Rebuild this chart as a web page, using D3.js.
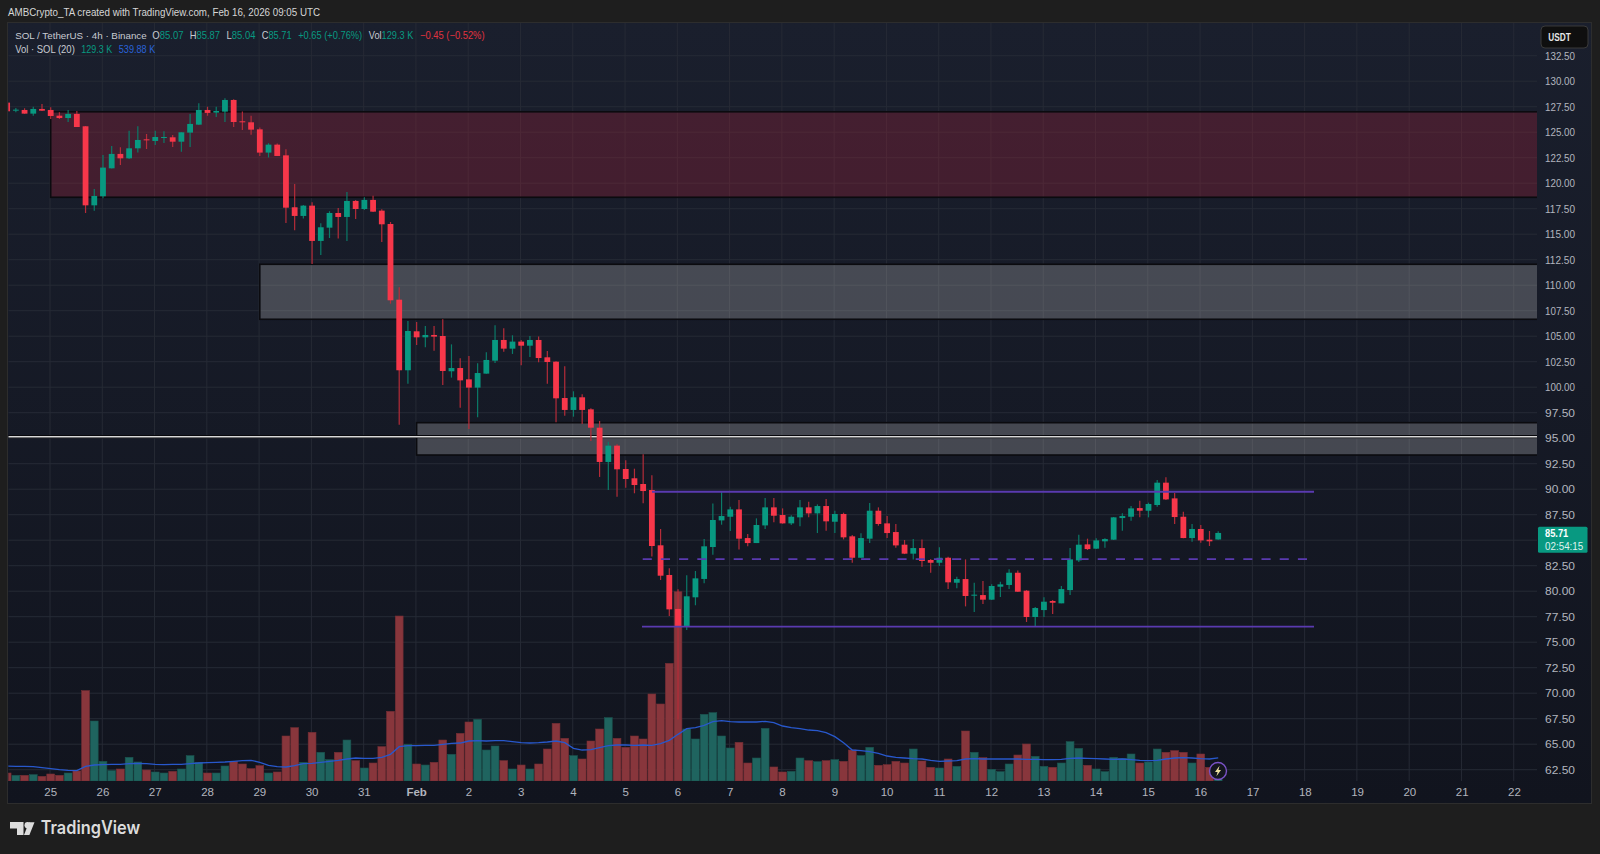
<!DOCTYPE html>
<html><head><meta charset="utf-8">
<style>html,body{margin:0;padding:0;background:#1e1e1e;overflow:hidden}text{font-family:"Liberation Sans",Arial,sans-serif}</style>
<script src="https://cdnjs.cloudflare.com/ajax/libs/d3/7.9.0/d3.min.js"></script>
</head><body><svg id="c" width="1600" height="854" xmlns="http://www.w3.org/2000/svg"></svg>
<script>
const dayLabels=['25','26','27','28','29','30','31','Feb','2','3','4','5','6','7','8','9','10','11','12','13','14','15','16','17','18','19','20','21','22'];
const priceTicks=[132.5,130,127.5,125,122.5,120,117.5,115,112.5,110,107.5,105,102.5,100,97.5,95,92.5,90,87.5,85,82.5,80,77.5,75,72.5,70,67.5,65,62.5];
const firstIndex=-5;
const open=[127.90,127.11,127.18,126.82,127.28,127.18,126.62,126.39,126.79,125.58,117.83,118.72,121.46,122.87,122.44,123.42,124.30,124.14,124.43,124.50,124.07,124.96,125.74,127.18,126.92,127.02,128.16,126.07,125.97,125.28,123.00,123.78,122.73,117.64,116.79,117.80,114.34,115.64,117.08,116.69,118.26,117.47,118.36,117.31,116.00,108.58,101.66,105.48,104.89,105.12,105.02,101.56,101.88,100.77,99.96,101.33,102.60,104.63,103.78,104.47,104.07,104.63,102.93,102.50,98.94,97.77,99.01,97.83,96.03,92.67,94.27,91.98,91.07,90.51,89.92,84.50,81.59,78.26,76.59,79.40,81.20,84.33,86.94,87.30,88.02,85.21,84.72,86.45,88.22,87.47,86.65,87.24,88.22,87.63,88.35,86.81,87.57,85.38,83.28,85.15,87.89,86.65,85.80,84.56,83.68,84.23,83.06,82.79,83.28,80.83,81.19,79.56,79.62,79.17,80.44,80.61,81.81,80.05,77.47,78.15,79.04,78.81,80.11,83.02,84.59,84.17,84.89,85.05,87.17,87.30,88.15,87.89,88.45,90.64,89.10,87.30,85.21,86.10,85.05,85.07];
const high=[127.93,127.37,127.34,127.50,127.76,127.44,126.95,127.18,127.08,125.61,119.43,122.77,123.65,123.52,125.15,125.58,124.83,125.15,125.09,124.73,124.99,126.79,127.83,127.50,127.50,128.32,128.22,127.02,126.62,125.45,123.91,123.88,123.32,119.92,117.87,118.13,116.07,117.24,117.57,119.14,118.36,118.62,118.78,117.44,116.20,109.79,106.49,106.39,106.00,106.00,106.65,104.20,102.83,103.06,102.34,103.42,106.07,105.77,105.09,104.63,105.02,104.96,103.55,102.54,102.05,99.60,99.30,97.93,96.69,94.66,94.40,92.83,92.01,93.42,91.36,86.10,82.24,80.18,81.56,81.98,85.12,88.61,89.72,88.28,88.94,85.61,87.14,89.13,89.13,88.12,87.44,88.94,88.78,88.51,89.04,87.89,87.70,85.51,85.67,88.64,88.22,87.37,86.59,85.02,85.11,85.06,83.15,84.30,83.38,81.42,83.12,80.83,81.00,80.67,80.93,82.14,82.04,80.11,78.45,79.40,79.13,80.51,84.23,85.54,85.15,85.18,85.18,87.27,87.63,88.35,88.87,88.68,90.90,91.16,89.62,87.79,86.59,86.49,85.90,85.87];
const low=[127.05,126.95,126.82,126.62,127.08,126.30,126.30,126.00,125.51,117.08,117.31,118.52,121.43,121.79,122.38,123.00,123.36,123.75,123.94,123.55,123.09,123.55,125.71,126.62,126.49,126.00,125.51,125.22,124.76,122.67,122.51,122.67,116.10,115.38,116.53,112.08,112.96,114.63,114.57,114.34,116.49,117.38,117.18,114.24,108.19,96.33,100.35,104.14,103.91,103.58,100.22,100.94,97.99,95.90,97.05,101.33,102.37,103.48,103.26,102.14,102.96,102.44,100.35,96.56,97.21,97.11,96.39,94.73,91.20,89.92,89.27,90.15,89.60,88.62,83.39,81.10,77.57,67.43,76.19,78.62,80.77,83.58,86.52,85.90,84.10,84.40,84.72,86.10,86.75,86.62,86.49,86.36,87.24,85.70,85.93,85.70,85.08,82.79,83.28,84.72,86.42,85.21,84.27,83.64,83.12,82.40,81.81,82.47,80.21,80.28,78.51,77.96,78.74,79.13,79.43,80.21,79.92,76.98,76.52,77.47,77.76,78.81,79.62,82.86,84.04,84.13,84.27,85.02,85.93,86.91,87.24,87.24,88.28,88.94,86.59,85.18,84.85,84.76,84.43,85.04];
const close=[127.05,127.21,126.82,127.28,127.11,126.59,126.39,126.79,125.51,117.83,118.75,121.53,122.87,122.44,123.42,124.24,124.21,124.53,124.53,124.07,124.99,125.81,127.18,126.89,127.08,128.16,126.00,125.97,125.25,123.00,123.78,122.67,117.60,116.79,117.80,114.34,115.68,117.08,116.69,118.26,117.47,118.36,117.21,115.97,108.52,101.66,105.51,104.89,105.12,104.96,101.59,101.88,100.67,99.96,101.39,102.67,104.63,103.78,104.47,104.07,104.63,102.86,102.47,98.91,97.77,99.01,97.77,96.03,92.67,94.27,91.95,91.00,90.41,89.82,84.43,81.52,78.22,76.52,79.50,81.26,84.40,86.98,87.37,88.02,85.15,84.72,86.49,88.22,87.40,86.65,87.30,88.22,87.63,88.35,86.85,87.57,85.28,83.28,85.21,87.89,86.59,85.70,84.49,83.68,84.23,82.96,82.79,83.28,80.87,81.19,79.53,79.66,79.17,80.51,80.67,81.81,79.95,77.47,78.35,78.97,78.87,80.21,83.12,84.56,84.13,84.98,85.11,87.24,87.37,88.12,87.89,88.55,90.64,89.00,87.27,85.21,86.10,84.98,84.89,85.71];
const volume=[187,133,133,148,109,164,133,187,234,2114,1404,460,242,281,554,445,257,211,187,226,281,593,437,187,187,351,460,398,289,359,187,211,1053,1248,437,1139,671,499,671,959,476,304,421,803,1630,3861,858,398,374,437,959,624,1115,1381,1443,725,819,476,281,374,281,398,749,1349,998,593,515,936,1217,1482,998,788,1053,983,2036,1802,2753,4430,1217,983,1560,1599,1053,772,905,421,538,1232,328,211,226,538,476,452,476,499,460,725,593,788,367,382,460,421,749,468,320,304,515,343,1170,671,546,273,218,398,608,866,577,343,320,421,920,764,367,281,218,554,530,632,421,445,749,671,710,671,421,632,320,129.3];
const volumeMA=[351,343,343,335,312,289,265,250,242,343,374,382,390,390,406,413,406,390,382,390,390,406,421,429,437,445,460,476,484,437,367,335,328,359,406,413,437,460,484,515,538,530,530,554,624,803,827,827,835,835,858,881,889,936,944,936,944,944,920,897,889,897,913,936,897,764,725,733,780,827,842,842,835,842,835,874,952,1092,1225,1248,1303,1388,1412,1388,1381,1381,1381,1396,1365,1287,1248,1225,1193,1178,1131,1037,897,725,710,686,647,585,554,538,523,515,484,460,468,476,515,523,515,515,515,515,515,507,507,499,499,507,530,538,530,523,515,507,515,499,484,476,484,515,538,546,538,523,515,540];
const zoneRed=[127.0,118.62], zoneGrayA=[112.05,106.66], zoneGrayB=[96.52,93.35], whiteLevel=95.15;
const rangeTop=89.75, rangeMid=83.15, rangeLow=76.52;

const W=1600,H=854,plotL=8.3,plotR=1537,plotT=23,plotB=781;
const svg=d3.select('#c');
const x=d3.scaleLinear().domain([0,134]).range([50.7,1218.2]);
const y=d3.scaleLinear().domain([62.5,132.5]).range([769.7,55.7]);
const v=d3.scaleLinear().domain([0,4430]).range([781,591.7]);
const defs=svg.append('defs');
const g=defs.append('linearGradient').attr('id','bg').attr('x1',0).attr('x2',0).attr('y1',0).attr('y2',1);
g.append('stop').attr('offset',0).attr('stop-color','#1a1f2d');
g.append('stop').attr('offset',1).attr('stop-color','#11141e');
defs.append('clipPath').attr('id','plot').append('rect').attr('x',plotL).attr('y',plotT).attr('width',plotR-plotL).attr('height',plotB-plotT);
svg.append('rect').attr('width',W).attr('height',H).attr('fill','#1e1e1e');
svg.append('rect').attr('x',7.5).attr('y',22.5).attr('width',1584).attr('height',781).attr('fill','url(#bg)').attr('stroke','#2d2d2d');
function fit(sel,w){return sel.attr('textLength',w).attr('lengthAdjust','spacingAndGlyphs');}
fit(svg.append('text').attr('x',8).attr('y',16).attr('font-size',11.6).attr('fill','#d6d6d6').text('AMBCrypto_TA created with TradingView.com, Feb 16, 2026 09:05 UTC'),312);

const plot=svg.append('g').attr('clip-path','url(#plot)');
const dayIdx=dayLabels.map((d,i)=>i*6);
plot.selectAll('.gx').data(dayIdx).join('line').attr('x1',d=>x(d)-.7).attr('x2',d=>x(d)-.7).attr('y1',plotT).attr('y2',plotB+22).attr('stroke','#262a35');
plot.selectAll('.gy').data(priceTicks).join('line').attr('x1',plotL).attr('x2',plotR).attr('y1',d=>y(d)).attr('y2',d=>y(d)).attr('stroke','#262a35');

function zone(z,i0,fill,op){
  plot.append('rect').attr('x',x(i0)).attr('y',y(z[0])).attr('width',plotR+6-x(i0)).attr('height',y(z[1])-y(z[0]))
   .attr('fill',fill).attr('fill-opacity',op).attr('stroke','#0b0b0f').attr('stroke-width',1.6);
}
zone(zoneRed,0,'#b4233c',.28);
zone(zoneGrayA,24.0,'#c8c8c8',.27);
zone(zoneGrayB,42.0,'#c8c8c8',.27);
plot.append('line').attr('x1',plotL).attr('x2',plotR).attr('y1',y(whiteLevel)).attr('y2',y(whiteLevel)).attr('stroke','#08080c').attr('stroke-width',3.4);
plot.append('line').attr('x1',plotL).attr('x2',plotR).attr('y1',y(whiteLevel)).attr('y2',y(whiteLevel)).attr('stroke','#d8d8d8').attr('stroke-width',1.5);

const idx=d3.range(open.length);
const at=i=>x(i+firstIndex);
const up=i=>close[i]>=open[i];
plot.selectAll('.vol').data(idx).join('rect')
 .attr('x',i=>at(i)-3.9).attr('width',7.8).attr('y',i=>v(volume[i])).attr('height',i=>v(0)-v(volume[i]))
 .attr('fill',i=>up(i)?'#1f645f':'#88363c').attr('stroke',i=>up(i)?'#1b544f':'#742e34').attr('stroke-width',.6);
plot.append('path').datum(idx).attr('fill','none').attr('stroke','#2858cc').attr('stroke-width',1.3)
 .attr('d',d3.line().x(i=>at(i)).y(i=>v(volumeMA[i])));

plot.selectAll('.wick').data(idx).join('line')
 .attr('x1',at).attr('x2',at).attr('y1',i=>y(high[i])).attr('y2',i=>y(low[i]))
 .attr('stroke',i=>up(i)?'#0b7a68':'#b52c39').attr('stroke-width',1.2);
plot.selectAll('.body').data(idx).join('rect')
 .attr('x',i=>at(i)-2.9).attr('width',5.8).attr('y',i=>y(Math.max(open[i],close[i])))
 .attr('height',i=>Math.max(1,Math.abs(y(open[i])-y(close[i]))))
 .attr('fill',i=>up(i)?'#089981':'#f7374a');

const violet='#5a3ab0';
[[rangeTop,652,1314,null],[rangeMid,642.7,1307,'9.1,9.1'],[rangeLow,642,1314,null]].forEach(a=>{
  const l=plot.append('line').attr('x1',a[1]).attr('x2',a[2]).attr('y1',y(a[0])).attr('y2',y(a[0])).attr('stroke',violet).attr('stroke-width',1.8);
  if(a[3])l.attr('stroke-dasharray',a[3]);
});

svg.selectAll('.xl').data(dayLabels).join('text').attr('x',(d,i)=>x(i*6)).attr('y',796).attr('text-anchor','middle')
 .attr('font-size',11.5).attr('font-weight',d=>d==='Feb'?700:400).attr('fill','#b2b5be').text(d=>d);
const yl=svg.selectAll('.yl').data(priceTicks.filter(d=>d!==85)).join('text').attr('x',1545).attr('y',d=>y(d)+4).attr('font-size',11.4).attr('fill','#b2b5be').text(d=>d.toFixed(2));
fit(yl,30);

// legend
const lg=svg.append('g').attr('font-size',10.6);
const G='#089981',R='#e0323f',B='#2962d8',T='#c8cbd2';
function legend(yPos,xPos,w,parts,size){
  const t=fit(lg.append('text').attr('x',xPos).attr('y',yPos),w);
  if(size)t.attr('font-size',size);
  parts.forEach(p=>t.append('tspan').attr('fill',p[1]).text(p[0]));
}
legend(38.5,15.2,131.5,[['SOL / TetherUS · 4h · Binance',T]],9.8);
legend(38.5,152.2,31.3,[['O',T],['85.07',G]]);
legend(38.5,189.7,30.3,[['H',T],['85.87',G]]);
legend(38.5,226.6,28.9,[['L',T],['85.04',G]]);
legend(38.5,261.7,29.9,[['C',T],['85.71',G]]);
legend(38.5,298.2,64,[['+0.65 (+0.76%)',G]]);
legend(38.5,368.8,44.5,[['Vol',T],['129.3 K',G]]);
legend(38.5,420.1,64.4,[['−0.45 (−0.52%)',R]]);
legend(52.5,15.2,59.6,[['Vol · SOL (20)',T]]);
legend(52.5,81.3,31,[['129.3 K',G]]);
legend(52.5,118.8,36.5,[['539.88 K',B]]);

// USDT button
svg.append('rect').attr('x',1541).attr('y',26).attr('width',47).attr('height',22).attr('rx',4).attr('fill','#0f0f0f').attr('stroke','#3a3a3a');
fit(svg.append('text').attr('x',1548.3).attr('y',41).attr('font-size',11.5).attr('font-weight',700).attr('fill','#e6e6e6').text('USDT'),22.5);
// price tag
svg.append('rect').attr('x',1538).attr('y',526.7).attr('width',49.5).attr('height',26).attr('rx',1.5).attr('fill','#089981');
fit(svg.append('text').attr('x',1545).attr('y',537.4).attr('font-size',10.6).attr('font-weight',700).attr('fill','#fff').text(close[close.length-1].toFixed(2)),23.3);
fit(svg.append('text').attr('x',1545).attr('y',549.6).attr('font-size',10.4).attr('fill','#dff2ee').text('02:54:15'),38.3);

// lightning badge
const bx=svg.append('g').attr('transform','translate(1218,771)');
bx.append('circle').attr('r',8.5).attr('fill','#14161f').attr('stroke','#7a52c7').attr('stroke-width',1.4);
bx.append('path').attr('d','M1.6,-5.2 L-3,1 H-.4 L-1.6,5.2 L3,-1 H.4 Z').attr('fill','#efe3a0');

// TradingView mark
const lf='#dcdcdc';
svg.append('path').attr('d','M10,822 H23.5 V835 H17 V828.5 H10 Z').attr('fill',lf);
svg.append('circle').attr('cx',27.6).attr('cy',825.2).attr('r',3.1).attr('fill',lf);
svg.append('path').attr('d','M24,835 L29,822.2 H34.5 L29.4,835 Z').attr('fill',lf);
fit(svg.append('text').attr('x',40.7).attr('y',834).attr('font-size',18).attr('font-weight',600).attr('fill',lf).style('font-family','Inter,"Open Sans",sans-serif').text('TradingView'),99.5);
</script></body></html>
